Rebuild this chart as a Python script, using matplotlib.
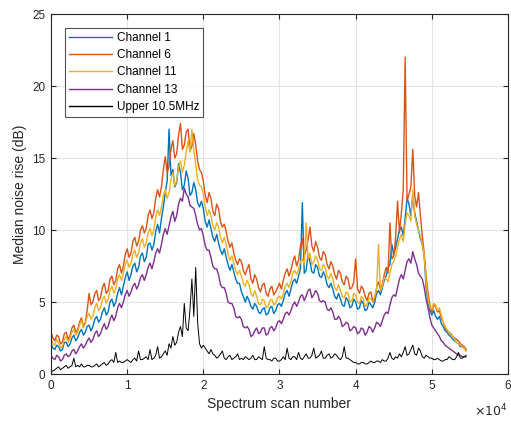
import numpy as np
import matplotlib.pyplot as plt
from matplotlib.ticker import FuncFormatter

plt.rcParams['font.family'] = ['Liberation Sans', 'DejaVu Sans']

# median noise rise (dB), one value every 250 spectrum scans
scan_step = 250

channel_1 = [
    2.1, 1.8, 1.7, 2.0, 1.9, 1.6, 1.7, 2.2, 2.2, 1.9, 2.1, 2.5, 2.7, 2.3, 2.5, 2.9, 3.1, 2.7, 2.9, 3.3,
    3.4, 3.0, 3.3, 3.8, 4.0, 3.6, 3.8, 4.3, 4.6, 4.1, 4.3, 5.0, 5.2, 4.7, 5.0, 5.6, 6.0, 5.5, 6.1, 6.7,
    7.1, 6.5, 6.9, 7.5, 7.7, 7.1, 7.4, 8.2, 8.4, 7.8, 8.1, 9.0, 9.1, 8.6, 9.0, 9.9, 10.4, 9.8, 10.8, 11.6,
    12.6, 13.4, 17.0, 13.8, 14.2, 13.0, 13.3, 14.6, 14.0, 12.8, 13.1, 14.1, 13.6, 12.4, 12.6, 13.3, 12.8, 11.9, 11.6, 12.0,
    11.5, 10.6, 10.2, 10.7, 10.1, 9.5, 9.2, 9.7, 9.1, 8.6, 8.3, 8.7, 8.1, 7.6, 7.2, 7.6, 7.1, 6.6, 6.3, 6.3,
    5.7, 5.4, 5.0, 5.4, 5.1, 4.7, 4.5, 4.9, 4.7, 4.3, 4.2, 4.5, 4.6, 4.1, 4.2, 4.6, 4.7, 4.2, 4.4, 4.8,
    4.9, 4.7, 5.1, 5.6, 5.8, 5.4, 5.9, 6.4, 6.6, 6.3, 6.8, 7.3, 11.9, 7.0, 7.2, 8.3, 7.8, 7.1, 7.0, 7.6,
    7.4, 6.8, 6.7, 7.1, 6.8, 6.2, 6.0, 6.3, 5.9, 5.4, 5.2, 5.6, 5.2, 4.8, 4.7, 5.3, 5.1, 4.6, 4.7, 5.2,
    5.0, 4.5, 4.6, 5.1, 4.9, 4.4, 4.5, 5.0, 4.8, 4.6, 5.0, 5.6, 5.8, 5.5, 6.0, 6.5, 6.8, 7.4, 7.6, 9.0,
    8.3, 8.8, 9.4, 10.0, 10.2, 9.6, 10.8, 12.2, 11.8, 11.0, 12.4, 11.2, 10.6, 10.0, 9.4, 9.0, 8.2, 6.0, 5.0, 4.4,
    4.1, 4.4, 4.0, 3.8, 4.0, 3.5, 3.3, 3.0, 2.9, 2.7, 2.6, 2.4, 2.3, 2.2, 2.1, 1.9, 1.9, 1.8, 1.7,
]

channel_6 = [
    2.9, 2.5, 2.3, 2.7, 2.6, 2.1, 2.2, 2.8, 2.9, 2.4, 2.7, 3.2, 3.4, 2.9, 3.1, 3.6, 3.9, 3.3, 3.6, 4.4,
    5.6, 4.8, 5.0, 5.6, 5.8, 5.1, 5.3, 6.0, 6.3, 5.6, 5.8, 6.6, 6.8, 6.2, 6.5, 7.3, 7.6, 7.0, 7.5, 8.3,
    8.7, 8.1, 8.4, 9.2, 9.5, 8.9, 9.2, 10.0, 10.3, 9.8, 10.1, 11.0, 11.4, 10.8, 11.2, 12.2, 12.8, 12.3, 13.0, 14.2,
    15.1, 14.0, 14.4, 15.6, 16.2, 15.0, 15.3, 16.6, 17.4, 15.6, 15.9, 16.8, 17.0, 15.5, 15.8, 16.7, 15.9, 14.8, 14.2, 14.0,
    13.4, 12.4, 11.9, 12.6, 12.2, 11.3, 11.0, 11.8, 11.5, 10.6, 10.2, 10.4, 9.9, 9.2, 8.8, 9.1, 8.4, 7.9, 7.6, 8.0,
    7.8, 7.2, 6.9, 7.3, 7.6, 6.6, 6.3, 6.9, 6.6, 6.0, 5.7, 6.2, 6.3, 5.6, 5.4, 5.9, 6.1, 5.5, 5.7, 6.0,
    6.3, 5.9, 6.5, 7.0, 7.3, 6.8, 7.2, 7.8, 8.2, 7.5, 7.9, 8.9, 9.4, 8.2, 8.6, 9.3, 10.2, 8.9, 8.5, 9.2,
    8.8, 8.1, 7.9, 8.5, 8.3, 7.6, 7.3, 7.8, 7.5, 6.9, 6.6, 7.2, 7.0, 6.4, 6.2, 6.8, 6.6, 5.9, 6.0, 6.4,
    8.0, 5.9, 5.6, 6.1, 5.9, 5.4, 5.1, 5.6, 5.7, 5.0, 5.2, 6.0, 6.4, 5.9, 6.2, 6.9, 7.4, 7.0, 10.5, 8.0,
    8.2, 9.5, 12.0, 9.8, 11.2, 12.8, 22.0, 12.0, 12.5, 13.0, 15.6, 12.4, 11.6, 12.6, 11.0, 9.6, 8.4, 6.8, 5.6, 4.8,
    4.3, 4.8, 4.7, 4.3, 4.4, 3.9, 3.6, 3.2, 3.0, 2.9, 2.8, 2.6, 2.5, 2.4, 2.3, 2.1, 2.0, 1.9, 1.7,
]

channel_11 = [
    2.5, 2.1, 2.0, 2.4, 2.2, 1.8, 1.9, 2.4, 2.6, 2.2, 2.5, 2.9, 3.1, 2.7, 2.9, 3.4, 3.7, 3.2, 3.5, 4.0,
    4.2, 3.8, 4.0, 4.6, 4.9, 4.4, 4.6, 5.2, 5.4, 4.9, 5.2, 5.8, 6.1, 5.6, 5.9, 6.6, 6.9, 6.5, 7.0, 7.6,
    7.9, 7.4, 7.7, 8.3, 8.6, 8.1, 8.4, 9.1, 9.4, 8.8, 9.1, 9.8, 10.1, 9.6, 10.0, 10.9, 11.4, 11.0, 11.6, 12.4,
    12.8, 12.2, 12.6, 13.5, 14.0, 13.1, 13.4, 14.4, 14.8, 14.0, 14.5, 15.4, 16.2, 15.4, 17.0, 15.5, 14.6, 13.5, 13.1, 13.0,
    12.5, 11.6, 11.0, 11.4, 11.0, 10.3, 10.0, 10.5, 10.2, 9.5, 9.1, 9.5, 9.0, 8.3, 7.9, 8.2, 7.7, 7.2, 6.9, 7.2,
    6.8, 6.3, 6.1, 6.5, 6.2, 5.6, 5.4, 5.8, 5.4, 4.9, 4.8, 5.2, 5.1, 4.6, 4.7, 5.1, 5.2, 4.8, 4.9, 5.3,
    5.4, 5.2, 5.6, 6.1, 6.3, 6.0, 6.4, 7.0, 7.2, 6.9, 7.3, 7.8, 8.0, 7.6, 10.5, 8.0, 8.4, 7.6, 7.8, 8.2,
    7.9, 7.3, 7.2, 7.6, 7.4, 6.8, 6.6, 7.0, 6.6, 6.0, 5.8, 6.2, 5.8, 5.4, 5.3, 5.7, 5.6, 5.0, 5.1, 5.6,
    5.5, 5.0, 4.9, 5.4, 5.2, 4.7, 4.8, 5.3, 5.2, 5.0, 5.4, 5.9, 9.0, 5.8, 6.1, 6.7, 6.6, 6.4, 7.0, 7.6,
    7.8, 8.2, 8.8, 9.4, 9.7, 9.2, 10.4, 11.2, 11.0, 10.6, 12.8, 11.0, 10.4, 10.0, 9.6, 9.0, 8.2, 6.4, 5.2, 4.6,
    4.5, 4.9, 4.8, 4.4, 4.6, 4.1, 3.6, 3.3, 3.1, 2.9, 2.7, 2.6, 2.4, 2.2, 2.1, 2.0, 1.9, 1.8, 1.6,
]

channel_13 = [
    1.3, 1.1, 1.0, 1.3, 1.2, 0.9, 1.0, 1.3, 1.4, 1.2, 1.3, 1.6, 1.7, 1.4, 1.6, 1.9, 2.1, 1.8, 2.0, 2.3,
    2.5, 2.2, 2.4, 2.8, 3.0, 2.6, 2.8, 3.2, 3.5, 3.1, 3.3, 3.8, 4.1, 3.7, 4.0, 4.6, 4.9, 4.6, 5.0, 5.5,
    5.8, 5.4, 5.7, 6.1, 6.3, 5.9, 6.2, 6.7, 6.9, 6.5, 6.9, 7.4, 7.7, 7.3, 7.8, 8.4, 8.7, 8.4, 9.0, 9.7,
    10.1, 9.7, 10.3, 10.9, 11.3, 10.6, 11.0, 11.8, 12.2, 12.0, 12.9, 12.5, 12.3, 11.7, 11.6, 11.5, 11.0, 10.4, 10.0, 10.1,
    9.6, 8.9, 8.6, 8.6, 8.1, 7.5, 7.3, 7.3, 6.9, 6.2, 6.0, 6.0, 5.6, 5.0, 4.9, 4.9, 4.6, 4.0, 3.9, 4.0,
    3.8, 3.3, 3.2, 3.3, 3.1, 2.6, 2.7, 3.0, 3.2, 2.8, 2.9, 3.2, 3.2, 2.7, 2.8, 3.2, 3.3, 3.0, 3.2, 3.6,
    3.7, 3.5, 3.8, 4.2, 4.3, 4.1, 4.4, 4.8, 5.0, 4.7, 5.0, 5.4, 5.5, 5.1, 5.4, 5.8, 5.9, 5.3, 5.5, 5.8,
    5.6, 5.1, 5.0, 5.1, 5.0, 4.5, 4.4, 4.6, 4.3, 3.8, 3.8, 4.0, 3.8, 3.3, 3.4, 3.6, 3.5, 3.0, 3.1, 3.3,
    3.2, 2.8, 2.9, 3.2, 3.1, 2.7, 2.9, 3.3, 3.2, 2.9, 3.2, 3.6, 3.5, 3.3, 3.7, 4.1, 4.3, 4.2, 4.8, 5.3,
    5.5, 5.4, 6.0, 6.6, 6.9, 6.6, 7.2, 7.8, 8.0, 7.7, 8.5, 8.0, 7.6, 7.0, 6.8, 6.6, 6.0, 5.2, 4.6, 3.9,
    3.4, 3.2, 3.0, 2.8, 2.6, 2.3, 2.2, 2.0, 1.9, 1.8, 1.7, 1.6, 1.5, 1.4, 1.3, 1.3, 1.2, 1.2, 1.2,
]

upper_10_5mhz = [
    0.2, 0.2, 0.3, 0.4, 0.5, 0.3, 0.4, 0.5, 0.6, 0.4, 0.5, 0.6, 1.1, 0.5, 0.6, 0.5, 0.7, 0.5, 0.5, 0.6,
    0.6, 0.5, 0.5, 0.6, 0.7, 0.5, 0.6, 0.7, 0.8, 0.6, 0.7, 0.9, 1.0, 0.8, 1.5, 0.8, 0.9, 0.8, 0.8, 0.9,
    1.0, 0.9, 0.8, 1.0, 1.1, 0.9, 1.6, 1.0, 1.0, 1.1, 1.2, 1.0, 1.7, 1.0, 1.1, 1.3, 1.9, 1.1, 1.2, 1.4,
    1.6, 1.3, 2.1, 1.8, 2.6, 2.0, 2.2, 2.9, 3.3, 2.6, 4.9, 3.2, 3.0, 4.5, 6.6, 4.0, 7.4, 3.6, 2.1, 1.8,
    2.0, 1.8, 1.6, 1.4, 1.7, 1.4, 1.3, 1.1, 1.2, 1.4, 1.6, 1.1, 1.0, 1.2, 1.3, 1.0, 1.1, 1.2, 1.4, 1.0,
    1.1, 1.0, 1.2, 1.1, 1.0, 1.1, 1.3, 1.0, 1.0, 1.2, 1.1, 1.0, 1.9, 1.1, 1.0, 1.0, 0.9, 1.1, 1.1, 0.9,
    0.9, 1.0, 1.2, 1.0, 1.8, 1.1, 1.0, 1.2, 1.2, 1.0, 1.5, 1.1, 1.0, 1.2, 1.4, 1.1, 1.1, 1.3, 1.8, 1.1,
    1.2, 1.3, 1.6, 1.1, 1.1, 1.3, 1.4, 1.1, 1.2, 1.4, 1.3, 1.1, 1.0, 1.2, 1.9, 1.1, 1.1, 1.0, 0.9, 0.8,
    0.8, 0.7, 0.7, 0.8, 0.8, 0.7, 0.7, 0.8, 0.9, 0.8, 0.8, 0.9, 0.9, 0.8, 1.0, 0.9, 0.9, 1.1, 1.5, 1.1,
    1.0, 1.2, 1.1, 1.4, 1.2, 1.5, 1.9, 1.3, 1.4, 1.7, 2.0, 1.4, 1.3, 1.8, 1.6, 1.2, 1.1, 1.3, 1.2, 1.1,
    1.1, 1.0, 1.0, 1.1, 1.0, 0.9, 0.9, 1.0, 1.0, 1.2, 1.1, 1.0, 1.0, 1.2, 1.5, 1.1, 1.1, 1.2, 1.3,
]

series = [channel_1, channel_6, channel_11, channel_13, upper_10_5mhz]
labels = ["Channel 1", "Channel 6", "Channel 11", "Channel 13", "Upper 10.5MHz"]
colors = ["#0072BD", "#D95319", "#EDB120", "#7E2F8E", "#000000"]
widths = [1.0, 1.0, 1.0, 1.0, 0.7]

fig = plt.figure(figsize=(5.11, 4.21), dpi=100)
ax = fig.add_axes([0.0998, 0.1116, 0.8943, 0.8551])

for vals, lab, col, lw in zip(series, labels, colors, widths):
    x = np.arange(len(vals)) * scan_step
    ax.plot(x, vals, color=col, lw=lw, label=lab)

ax.set_xlim(0, 60000)
ax.set_ylim(0, 25)
ax.set_xticks(np.arange(0, 60001, 10000))
ax.set_yticks(np.arange(0, 26, 5))
ax.xaxis.set_major_formatter(FuncFormatter(lambda v, _: f"{v / 1e4:g}"))

ax.grid(True, color="#e3e3e3", lw=0.8)
ax.set_axisbelow(True)
for s in ax.spines.values():
    s.set_color("#262626")
    s.set_linewidth(0.8)
ax.tick_params(direction="in", top=True, right=True, length=3.5, width=0.8,
               colors="#262626", labelsize=8.5, pad=4)

ax.set_xlabel("Spectrum scan number", fontsize=10, color="#262626")
ax.set_ylabel("Median noise rise (dB)", fontsize=10, color="#262626")
ax.text(1.0, -0.08, r"$\times10^{4}$", transform=ax.transAxes, ha="right",
        va="top", fontsize=9, color="#262626")

leg = ax.legend(loc="upper left", bbox_to_anchor=(0.031, 0.962), fontsize=8.5,
                frameon=True, fancybox=False, edgecolor="#262626",
                handlelength=3.6, labelspacing=0.45, borderpad=0.35,
                handletextpad=0.4, borderaxespad=0)
leg.get_frame().set_linewidth(0.8)
for line in leg.get_lines():
    line.set_linewidth(1.0)

plt.savefig("out.png", dpi=100)
